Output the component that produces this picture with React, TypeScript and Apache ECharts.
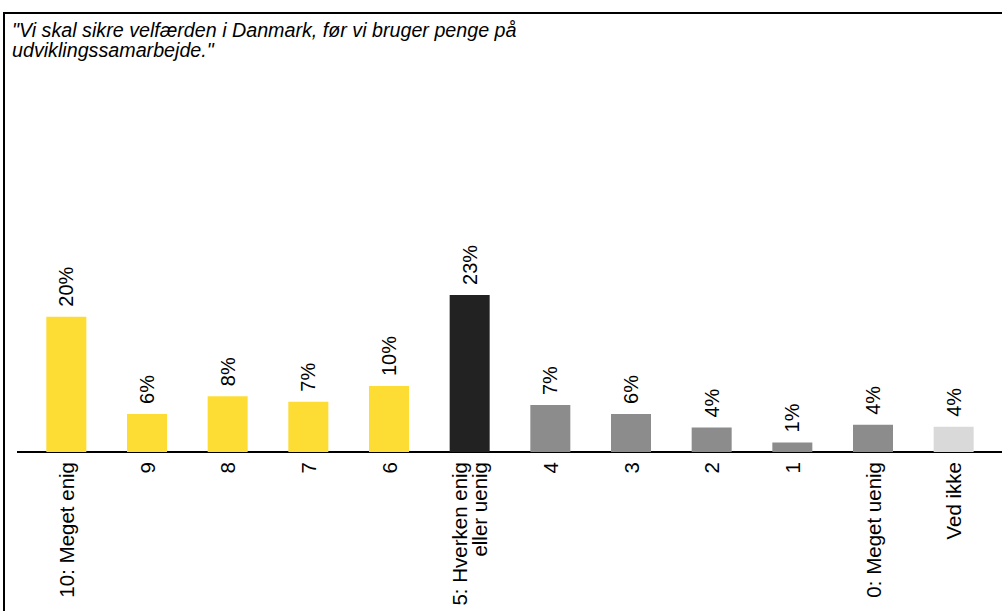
import React, { useEffect, useRef } from "react";
import * as echarts from "echarts";

const categories = [
  "10: Meget enig",
  "9",
  "8",
  "7",
  "6",
  "5: Hverken enig\neller uenig",
  "4",
  "3",
  "2",
  "1",
  "0: Meget uenig",
  "Ved ikke",
];
const values = [19.9, 5.6, 8.2, 7.4, 9.7, 23.1, 6.9, 5.6, 3.6, 1.4, 4.0, 3.7];
const barColors = [
  "#FDDD33",
  "#FDDD33",
  "#FDDD33",
  "#FDDD33",
  "#FDDD33",
  "#222222",
  "#8C8C8C",
  "#8C8C8C",
  "#8C8C8C",
  "#8C8C8C",
  "#8C8C8C",
  "#D9D9D9",
];
const titleLines = [
  '"Vi skal sikre velfærden i Danmark, før vi bruger penge på',
  'udviklingssamarbejde."',
];

const FONT = '"Liberation Sans", Arial, Helvetica, sans-serif';

export default function App() {
  const ref = useRef<HTMLDivElement>(null);
  useEffect(() => {
    if (!ref.current) return;
    const chart = echarts.init(ref.current, null, { renderer: "svg" });
    chart.setOption({
      animation: false,
      backgroundColor: "#ffffff",
      textStyle: { fontFamily: FONT },
      grid: { left: 26, right: 8, top: 180, bottom: 159, containLabel: false },
      xAxis: {
        type: "category",
        data: categories,
        axisLine: { show: false },
        axisTick: { show: false },
        axisLabel: {
          interval: 0,
          rotate: 90,
          margin: 10,
          fontSize: 20.5,
          lineHeight: 20,
          color: "#000000",
          fontFamily: FONT,
        },
      },
      yAxis: {
        type: "value",
        min: 0,
        max: 40,
        show: false,
        splitLine: { show: false },
      },
      series: [
        {
          type: "bar",
          barWidth: 40,
          data: values.map((v, i) => ({
            value: v,
            itemStyle: { color: barColors[i] },
          })),
          label: {
            show: true,
            position: "top",
            rotate: 90,
            align: "left",
            verticalAlign: "middle",
            distance: 10,
            fontSize: 20,
            color: "#000000",
            fontFamily: FONT,
            formatter: (p: any) => Math.round(p.value) + "%",
          },
        },
      ],
      graphic: [
        {
          type: "polyline",
          shape: { points: [[4, 611], [4, 13], [1002, 13]] },
          style: { stroke: "#000000", lineWidth: 2, fill: null },
        },
        {
          type: "line",
          shape: { x1: 17, y1: 452, x2: 1002, y2: 452 },
          style: { stroke: "#000000", lineWidth: 2 },
        },
        {
          type: "text",
          left: 12,
          top: 20,
          style: {
            text: titleLines.join("\n"),
            font: `italic 19.7px ${FONT}`,
            lineHeight: 20,
            fill: "#000000",
          },
        },
      ],
    });
    return () => chart.dispose();
  }, []);
  return (
    <div
      ref={ref}
      style={{ position: "fixed", left: 0, top: 0, width: 1002, height: 611 }}
    />
  );
}
